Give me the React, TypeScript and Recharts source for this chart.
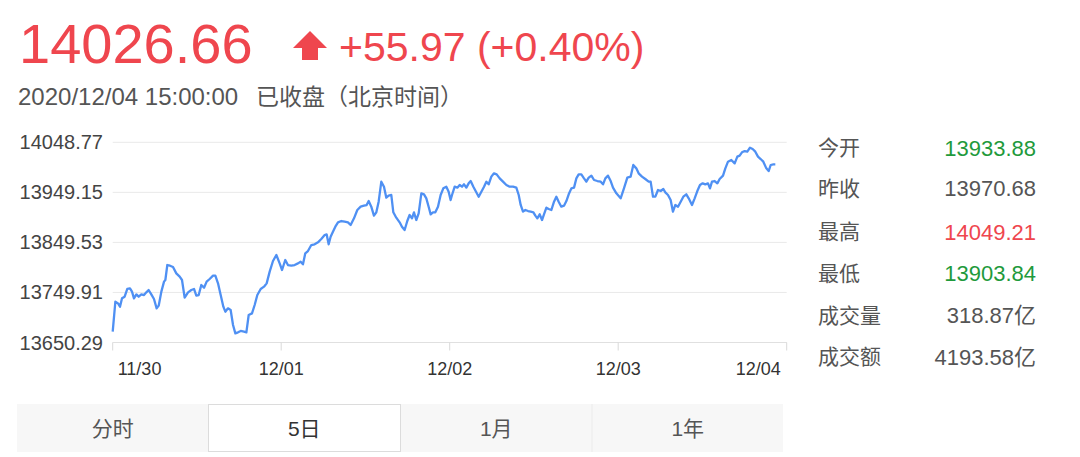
import React from 'react';
import { LineChart, Line, XAxis, YAxis, CartesianGrid } from 'recharts';

// ---- data ----
const minutes = [
  0, 3.8, 7.6, 10.4, 13.3, 17.0, 20.8, 24.6, 27.5, 30.3, 33.7, 37.0, 40.8, 44.6, 47.9, 51.2, 55.0, 58.8, 62.6, 65.5,
  69.3, 73.1, 75.0, 77.8, 81.6, 85.9, 90.6, 95.4, 98.7, 102.5, 107.3, 112.0, 115.8, 119.1, 122.5, 126.2, 130.1, 133.8,
  138.1, 142.9, 146.2, 150.0, 153.8, 157.6, 160.4, 164.2, 168.0, 171.4, 174.7, 178.5, 182.3, 187.0, 190.4, 193.7,
  198.4, 202.2, 206.0, 210.8, 215.5, 219.3, 223.6, 228.3, 233.1, 237.8, 241.2,
  245.8, 249.6, 254.4, 259.1, 263.9, 267.7, 271.0, 274.3, 278.1, 282.9, 287.6, 292.4, 297.1, 301.9, 304.7, 307.6,
  310.4, 313.7, 317.1, 320.9, 325.6, 330.4, 335.1, 338.9, 343.7, 348.4, 353.2, 357.9, 361.7, 364.6, 368.3, 372.1,
  375.5, 378.8, 382.6, 386.4, 389.7, 393.0, 396.8, 399.7, 403.9, 408.7, 412.0, 415.8, 419.6, 422.9, 426.3, 429.1,
  432.4, 435.8, 439.6, 443.4, 446.7, 450.0, 452.9, 456.2, 459.5, 463.3, 467.1, 470.9, 475.2, 478.5, 481.3,
  483.3, 487.1, 490.9, 494.2, 497.5, 500.4, 503.7, 507.0, 509.9, 513.7, 517.5, 521.3, 525.1, 528.9, 532.2, 535.5,
  539.3, 543.1, 546.9, 551.2, 555.9, 560.7, 565.4, 570.2, 574.9, 578.3, 581.1, 584.4, 587.8, 591.6, 595.4, 599.2,
  602.0, 604.8, 608.2, 611.5, 614.3, 617.7, 621.0, 624.8, 628.6, 631.9, 635.2, 639.0, 642.8, 646.2, 649.5, 653.3,
  657.1, 660.4, 663.7, 667.5, 671.3, 674.6, 678.0, 681.8, 685.6, 690.3, 695.1, 698.4, 701.7, 705.5, 709.3, 712.6,
  717.4, 723.5, 728.2, 733.0, 737.7, 741.5, 745.8, 749.1, 753.9, 758.6, 763.4, 766.2, 769.6, 772.9, 776.7, 780.5,
  784.3, 787.1, 790.9, 794.7, 798.0, 801.4, 805.2, 809.0, 812.8, 817.0, 820.4, 825.1, 828.9, 832.7, 836.5, 840.3,
  844.1, 847.9, 850.7, 853.6, 857.4, 861.2, 864.5, 869.3, 872.6, 876.4, 881.1, 885.9, 889.7, 893.0, 896.3, 900.1,
  903.9, 907.7, 911.5, 915.3, 919.1, 922.9, 926.7, 931.0, 934.3, 937.2, 941.0, 943.8,
];

const prices = [
  13671.8, 13731.5, 13728.2, 13721.6, 13738.2, 13741.5, 13756.8, 13758.1, 13751.5, 13738.2, 13746.1, 13741.5, 13746.1,
  13744.8, 13750.1, 13754.8, 13746.1, 13736.9, 13718.3, 13723.6, 13751.5, 13771.4, 13774.7, 13804.5, 13803.2, 13800.5,
  13787.9, 13781.3, 13774.7, 13739.5, 13750.1, 13754.8, 13756.8, 13743.5, 13744.8, 13764.7, 13759.4, 13771.4, 13776.7,
  13783.3, 13783.3, 13768.0, 13744.8, 13721.6, 13711.6, 13718.3, 13715.0, 13685.1, 13668.5, 13670.5, 13673.2, 13671.8,
  13670.5, 13705.0, 13708.3, 13724.9, 13744.8, 13756.8, 13761.4, 13768.0, 13791.3, 13812.5, 13824.4, 13807.8, 13794.6,
  13814.5, 13804.5, 13803.2, 13804.5, 13807.8, 13811.2, 13805.9, 13827.8, 13832.4, 13844.3, 13845.7, 13849.6, 13856.3,
  13864.2, 13865.6, 13845.7, 13860.9, 13870.9, 13880.8, 13889.5, 13892.1, 13890.8, 13889.5, 13884.2, 13897.4, 13914.0,
  13920.6, 13922.6, 13923.9, 13931.9, 13920.6, 13902.7, 13909.4, 13930.6, 13970.4, 13960.4, 13938.6, 13942.6, 13943.9,
  13909.4, 13898.7, 13889.5, 13880.8, 13874.2, 13892.1, 13904.1, 13897.4, 13909.4, 13894.1, 13907.4, 13947.2, 13945.2,
  13937.2, 13920.6, 13905.4, 13909.4, 13909.4, 13920.6, 13943.9, 13957.1, 13960.4, 13950.5, 13933.9,
  13943.9, 13960.4, 13958.5, 13963.8, 13960.4, 13965.1, 13958.5, 13967.1, 13971.7, 13960.4, 13950.5, 13940.5, 13950.5,
  13960.4, 13970.4, 13965.1, 13980.4, 13987.0, 13985.0, 13977.0, 13970.4, 13963.8, 13960.4, 13960.4, 13958.5, 13943.9,
  13924.0, 13910.7, 13914.0, 13912.0, 13910.7, 13909.4, 13902.7, 13897.4, 13905.4, 13894.1, 13905.4, 13918.7, 13916.0,
  13914.0, 13930.6, 13940.5, 13930.6, 13920.6, 13922.6, 13931.9, 13945.2, 13957.1, 13958.5, 13977.0, 13985.0, 13985.0,
  13977.0, 13970.4, 13978.4, 13982.4, 13973.7, 13971.7, 13970.4, 13965.1, 13977.0, 13982.4, 13971.7, 13958.5, 13947.2,
  13937.2, 13957.1, 13978.4, 13980.4, 14003.6, 13996.9, 13987.0, 13980.4, 13975.7, 13970.4, 13970.4, 13940.5, 13940.5,
  13953.8, 13951.8, 13955.8, 13949.2, 13943.9, 13933.9, 13910.7, 13924.0, 13920.6, 13930.6, 13940.5, 13945.2, 13937.2,
  13924.0, 13937.2, 13951.8, 13963.8, 13967.1, 13965.1, 13967.1, 13957.1, 13970.4, 13971.7, 13967.1, 13975.7, 13982.4,
  13996.9, 14010.2, 14013.5, 14006.9, 14020.2, 14022.2, 14028.8, 14031.4, 14030.1, 14038.1, 14035.4, 14030.1, 14020.2,
  14015.5, 14010.2, 13996.9, 13991.6, 14003.6, 14004.9, 14004.9,
];

const dayTicks = [0, 240, 480, 720, 960];
const dayLabels = ['11/30', '12/01', '12/02', '12/03', '12/04'];
const priceTicks = [13650.29, 13749.91, 13849.53, 13949.15, 14048.77];
const priceTickLabels = ['13650.29', '13749.91', '13849.53', '13949.15', '14048.77'];

const lastPrice = '14026.66';
const changeText = '+55.97 (+0.40%)';
const timeText = '2020/12/04 15:00:00';
const statusText = '已收盘（北京时间）';

const statLabels = ['今开', '昨收', '最高', '最低', '成交量', '成交额'];
const statValues = ['13933.88', '13970.68', '14049.21', '13903.84', '318.87亿', '4193.58亿'];
const statKinds = ['down', 'flat', 'up', 'down', 'flat', 'flat'];

const tabLabels = ['分时', '5日', '1月', '1年'];
const activeTab = 1;

const data = minutes.map((t, i) => ({ t, price: prices[i] }));

// ---- styles ----
const FONT = "'Liberation Sans', Arial, 'Noto Sans CJK SC', sans-serif";
const RED = '#ef464e';
const GREEN = '#1f9a3c';
const GRAY = '#555555';
const kindColor: Record<string, string> = { up: RED, down: GREEN, flat: GRAY };

const XTick = (props: any) => {
  const { x, payload } = props;
  const idx = dayTicks.indexOf(payload.value);
  const label = dayLabels[idx];
  let anchor: 'start' | 'middle' | 'end' = 'middle';
  let dx = 0;
  if (idx === 0) { anchor = 'start'; dx = 5; }
  if (idx === dayTicks.length - 1) { anchor = 'end'; dx = -6; }
  return (
    <text x={x + dx} y={374.5} textAnchor={anchor} fontSize={18} fill="#333" fontFamily={FONT}>
      {label}
    </text>
  );
};

const YTick = (props: any) => {
  const { y, payload } = props;
  const idx = priceTicks.indexOf(payload.value);
  return (
    <text x={103} y={y + 7} textAnchor="end" fontSize={20} fill="#444" fontFamily={FONT}>
      {priceTickLabels[idx]}
    </text>
  );
};

const rowCenters = [147.7, 188.3, 231.7, 273.3, 315, 356.7];
const tabStarts = [17, 208.5, 400.5, 592];
const tabWidth = 191.5;

export default function App() {
  return (
    <div style={{ position: 'absolute', left: 0, top: 0, width: 1080, height: 457, background: '#fff', overflow: 'hidden', fontFamily: FONT }}>
      <svg width={1080} height={457} style={{ position: 'absolute', left: 0, top: 0 }}>
        {/* header */}
        <text x={19} y={63} fontSize={56} fill={RED} fontFamily={FONT}>{lastPrice}</text>
        <path d="M310 31 L327 48 L318 48 L318 60 L302 60 L302 48 L293 48 Z" fill={RED} />
        <text x={339} y={61} fontSize={41} fill={RED} fontFamily={FONT}>{changeText}</text>
        <text x={18} y={105} fontSize={24} fill={GRAY} fontFamily={FONT}>{timeText}</text>
        <text x={256} y={105} fontSize={23} fill={GRAY} fontFamily={FONT}>{statusText}</text>

        {/* stats panel */}
        {statLabels.map((lab, i) => (
          <g key={lab}>
            <text x={818} y={rowCenters[i] + 7.5} fontSize={21} fill={GRAY} fontFamily={FONT}>{lab}</text>
            <text x={1036} y={rowCenters[i] + 7.8} fontSize={22} textAnchor="end" fill={kindColor[statKinds[i]]} fontFamily={FONT}>
              {statValues[i]}
            </text>
          </g>
        ))}

        {/* tabs */}
        <rect x={17} y={404} width={766} height={48} fill="#f7f7f7" />
        <line x1={592} y1={404} x2={592} y2={452} stroke="#ebebeb" strokeWidth={1} />
        <rect x={208.5} y={404.5} width={192} height={47} fill="#fff" stroke="#dcdcdc" strokeWidth={1} />
        {tabLabels.map((lab, i) => (
          <text key={lab} x={tabStarts[i] + tabWidth / 2} y={436} fontSize={21} textAnchor="middle"
            fill={i === activeTab ? '#333' : GRAY} fontFamily={FONT}>
            {lab}
          </text>
        ))}
      </svg>

      <div style={{ position: 'absolute', left: 0, top: 0 }}>
        <LineChart width={800} height={390} data={data} margin={{ top: 142.3, right: 13.3, bottom: 17.5, left: 0 }}>
          <CartesianGrid vertical={false} stroke="#e9e9e9" />
          <XAxis
            type="number"
            dataKey="t"
            domain={[0, 960]}
            ticks={dayTicks}
            interval={0}
            height={30}
            tickSize={8}
            axisLine={{ stroke: '#e0e0e0' }}
            tickLine={{ stroke: '#d9d9d9' }}
            tick={(p: any) => <XTick {...p} />}
          />
          <YAxis
            type="number"
            domain={[13650.29, 14048.77]}
            ticks={priceTicks}
            interval={0}
            width={112.7}
            axisLine={false}
            tickLine={false}
            tick={(p: any) => <YTick {...p} />}
          />
          <Line type="linear" dataKey="price" stroke="#4f90f3" strokeWidth={2.3} strokeLinejoin="round" dot={false} isAnimationActive={false} />
        </LineChart>
      </div>
    </div>
  );
}
